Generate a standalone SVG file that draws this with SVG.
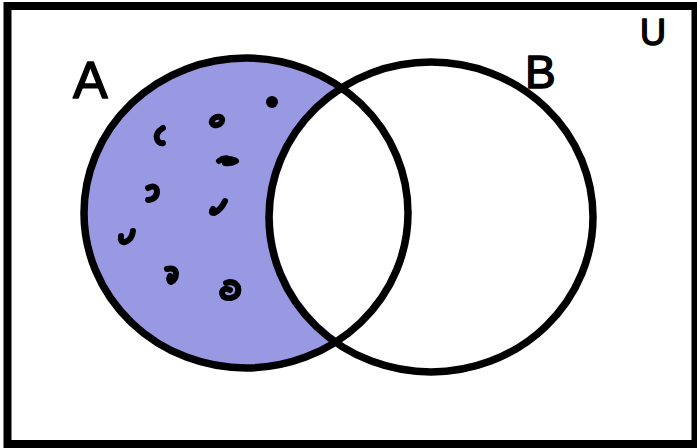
<svg xmlns="http://www.w3.org/2000/svg" width="697" height="448" viewBox="0 0 697 448">
<style>
.ln{fill:none;stroke:#000;stroke-width:7.5;stroke-linecap:round;stroke-linejoin:round}
.mk{fill:none;stroke:#000;stroke-width:6;stroke-linecap:round;stroke-linejoin:round}
.lbl{font-family:"Liberation Sans",Arial,sans-serif;fill:#000;stroke:#000;stroke-width:1.5;stroke-linejoin:round}
</style>
<rect width="697" height="448" fill="#fff"/>
<g id="universe">
<rect x="7.5" y="6" width="688" height="438" fill="none" stroke="#000" stroke-width="8"/>
<text class="lbl" x="640" y="45" font-size="36">U</text>
</g>
<g id="shading">
<ellipse cx="246" cy="213" rx="164" ry="157" fill="#9999e3"/>
<ellipse cx="431" cy="217" rx="158" ry="151" fill="#fff"/>
</g>
<g id="setA">
<ellipse class="ln" cx="246" cy="213" rx="162" ry="155"/>
<text class="lbl" x="73" y="98" font-size="52">A</text>
</g>
<g id="setB">
<ellipse class="ln" cx="431" cy="217" rx="162" ry="155"/>
<text class="lbl" x="525" y="88" font-size="46">B</text>
</g>
<g id="elements">
<circle class="mk" cx="272" cy="102" r="3"/>
<ellipse class="mk" cx="217" cy="121" rx="5.5" ry="4" transform="rotate(-25 217 121)"/>
<path class="mk" d="M163 128 Q155 133 157 139 Q159 144 163 143"/>
<path class="mk" d="M219 161 Q224 157 229 159 Q235 160 236 161 Q230 164 225 163"/>
<path class="mk" d="M148 188 Q156 184 157 191 Q157 199 148 200"/>
<path class="mk" d="M225 201 Q221 210 214 213 Q210 213 213 209"/>
<path class="mk" d="M133 231 Q132 240 125 242 Q120 243 121 236"/>
<path class="mk" d="M167 269 Q175 267 176 273 Q176 280 171 282 Q168 280 170 276"/>
<path class="mk" d="M226 283 Q234 280 238 287 Q240 296 231 298 Q222 299 222 292 Q224 287 230 290"/>
</g>
</svg>
